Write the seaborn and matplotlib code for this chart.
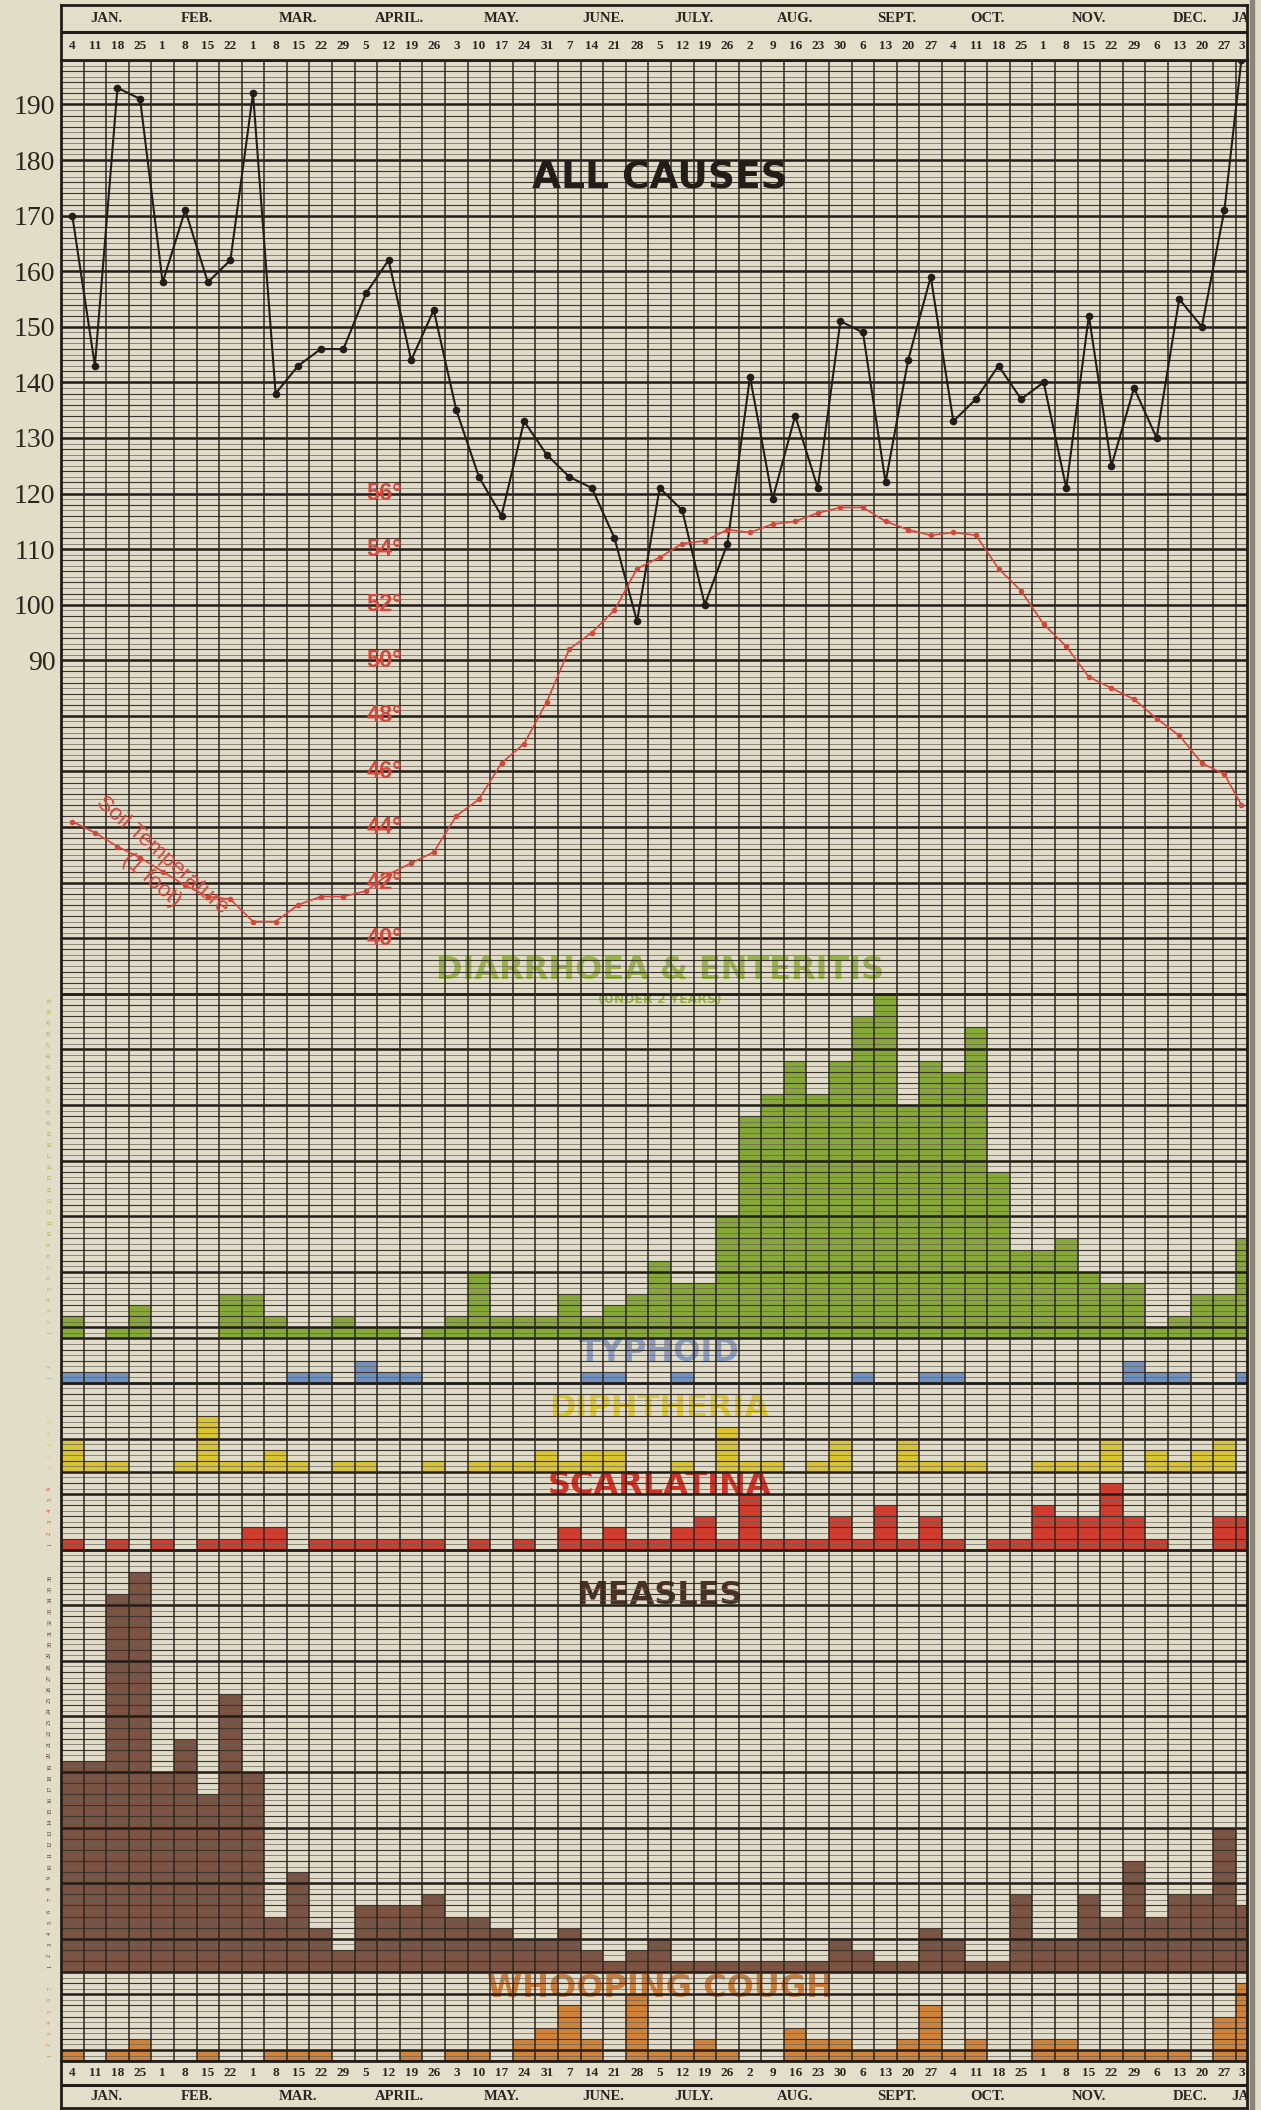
import numpy as np
import pandas as pd
import matplotlib
matplotlib.use("Agg")
import matplotlib.pyplot as plt
import seaborn as sns

# === DATA ===
MONTHS = ["JAN.", "FEB.", "MAR.", "APRIL.", "MAY.", "JUNE.", "JULY.", "AUG.",
          "SEPT.", "OCT.", "NOV.", "DEC.", "JAN."]
MONTH_WEEKS = [4, 4, 5, 4, 5, 4, 4, 5, 4, 4, 5, 4, 1]
WEEK_DAYS = [4, 11, 18, 25, 1, 8, 15, 22, 1, 8, 15, 22, 29, 5, 12, 19, 26,
             3, 10, 17, 24, 31, 7, 14, 21, 28, 5, 12, 19, 26, 2, 9, 16, 23, 30,
             6, 13, 20, 27, 4, 11, 18, 25, 1, 8, 15, 22, 29, 6, 13, 20, 27, 3]

ALL_CAUSES = [170, 143, 193, 191, 158, 171, 158, 162, 192, 138, 143, 146, 146,
              156, 162, 144, 153, 135, 123, 116, 133, 127, 123, 121, 112, 97,
              121, 117, 100, 111, 141, 119, 134, 121, 151, 149, 122, 144, 159,
              133, 137, 143, 137, 140, 121, 152, 125, 139, 130, 155, 150, 171, 198]
SOIL_TEMP = [44.2, 43.8, 43.3, 42.9, 42.4, 41.9, 41.5, 41.4, 40.6, 40.6,
             41.2, 41.5, 41.5, 41.7, 42.3, 42.7, 43.1, 44.4, 45.0, 46.3,
             47.0, 48.5, 50.4, 51.0, 51.8, 53.3, 53.7, 54.2, 54.3, 54.7,
             54.6, 54.9, 55.0, 55.3, 55.5, 55.5, 55.0, 54.7, 54.5, 54.6,
             54.5, 53.3, 52.5, 51.3, 50.5, 49.4, 49.0, 48.6, 47.9, 47.3,
             46.3, 45.9, 44.8]

DIARRHOEA = [2, 0, 1, 3, 0, 0, 0, 4, 4, 2, 1, 1, 2, 1, 1, 0, 1, 2, 6, 2, 2, 2,
             4, 2, 3, 4, 7, 5, 5, 11, 20, 22, 25, 22, 25, 29, 31, 21, 25, 24,
             28, 15, 8, 8, 9, 6, 5, 5, 1, 2, 4, 4, 9]
TYPHOID = [1, 1, 1, 0, 0, 0, 0, 0, 0, 0, 1, 1, 0, 2, 1, 1, 0, 0, 0, 0, 0, 0,
           0, 1, 1, 0, 0, 1, 0, 0, 0, 0, 0, 0, 0, 1, 0, 0, 1, 1, 0, 0, 0, 0,
           0, 0, 0, 2, 1, 1, 0, 0, 1]
DIPHTHERIA = [3, 1, 1, 0, 0, 1, 5, 1, 1, 2, 1, 0, 1, 1, 0, 0, 1, 0, 1, 1, 1, 2,
              1, 2, 2, 0, 0, 1, 0, 4, 1, 1, 0, 1, 3, 0, 0, 3, 1, 1, 1, 0, 0,
              1, 1, 1, 3, 0, 2, 1, 2, 3, 0]
SCARLATINA = [1, 0, 1, 0, 1, 0, 1, 1, 2, 2, 0, 1, 1, 1, 1, 1, 1, 0, 1, 0, 1, 0,
              2, 1, 2, 1, 1, 2, 3, 1, 5, 1, 1, 1, 3, 1, 4, 1, 3, 1, 0, 1, 1,
              4, 3, 3, 6, 3, 1, 0, 0, 3, 3]
MEASLES = [19, 19, 34, 36, 18, 21, 16, 25, 18, 5, 9, 4, 2, 6, 6, 6, 7, 5, 5, 4,
           3, 3, 4, 2, 1, 2, 3, 1, 1, 1, 1, 1, 1, 1, 3, 2, 1, 1, 4, 3, 1, 1,
           7, 3, 3, 7, 5, 10, 5, 7, 7, 13, 6]
WHOOPING_COUGH = [1, 0, 1, 2, 0, 0, 1, 0, 0, 1, 1, 1, 0, 0, 0, 1, 0, 1, 1, 0,
                  2, 3, 5, 2, 0, 6, 1, 1, 2, 1, 0, 0, 3, 2, 2, 1, 1, 2, 5, 1,
                  2, 0, 0, 2, 2, 1, 1, 1, 1, 1, 0, 4, 7]

DEATH_TICKS = list(range(90, 200, 10))
TEMP_TICKS = list(range(40, 58, 2))

# === STYLE ===
sns.set_style("white")
plt.rcParams["font.family"] = ["Liberation Serif", "DejaVu Serif"]

PAPER = "#e2ddc7"
GRID_BG = "#e0dcc9"
INK = "#221d19"
TEMP_RED = "#d4473a"

W, H = 1261, 2110
LEFT, RIGHT = 61, 1247
GRID_TOP = 60
ROW = 11.117
N_ROWS = 180
XMIN, XMAX = -0.5, 52.0

weeks = np.arange(len(WEEK_DAYS))
edges = np.minimum(np.arange(len(WEEK_DAYS) + 1) - 0.5, XMAX)
centers = (edges[:-1] + edges[1:]) / 2

fig = plt.figure(figsize=(W / 100, H / 100), dpi=100, facecolor=PAPER)


def band(top_px, bottom_px, z):
    ax = fig.add_axes([LEFT / W, 1 - bottom_px / H, (RIGHT - LEFT) / W,
                       (bottom_px - top_px) / H], zorder=z)
    ax.set_xlim(XMIN, XMAX)
    for s in ax.spines.values():
        s.set_visible(False)
    ax.set_xticks([])
    ax.set_yticks([])
    return ax


def rows_ax(r0, r1, z):
    return band(GRID_TOP + r0 * ROW, GRID_TOP + r1 * ROW, z)


# === PAPER BACKGROUND ===
bg = rows_ax(0, N_ROWS, 0)
bg.set_facecolor(GRID_BG)

# === DISEASE PANELS (bars) ===
panels = [
    # title, values, rows, bar colour, label colour, scale max, title y
    ("DIARRHOEA & ENTERITIS", DIARRHOEA, (84, 115), "#86a838", "#9ab44c", 31, 33.1),
    ("TYPHOID", TYPHOID, (115, 119), "#7090bd", "#8a9cc0", 2, 2.7),
    ("DIPHTHERIA", DIPHTHERIA, (119, 127), "#d9c433", "#dcc63a", 5, 5.7),
    ("SCARLATINA", SCARLATINA, (127, 134), "#d03c2e", "#cc3429", 6, 5.8),
    ("MEASLES", MEASLES, (134, 172), "#7a5343", "#4a3025", 36, 33.9),
    ("WHOOPING COUGH", WHOOPING_COUGH, (172, 180), "#d08338", "#c97d3d", 7, 6.55),
]

for title, vals, (r0, r1), bar_c, lab_c, top_lab, ty in panels:
    ax = rows_ax(r0, r1, 1)
    ax.patch.set_visible(False)
    df = pd.DataFrame({"week": weeks, "deaths": vals})
    sns.barplot(data=df, x="week", y="deaths", color=bar_c, width=1,
                saturation=1, errorbar=None, linewidth=0, ax=ax)
    ax.set_xlim(XMIN, XMAX)
    ax.set_ylim(0, r1 - r0)
    ax.set_axis_off()
    for k in range(1, top_lab + 1):
        ax.text(-1.0, k - 0.5, str(k), fontsize=4.5, color=lab_c, ha="center",
                va="center", rotation=90, clip_on=False)
    ax.text(26.0, ty, title, fontsize=23, fontweight="bold", color=lab_c,
            family="DejaVu Sans", ha="center", va="center", clip_on=False)
    if title.startswith("DIARRHOEA"):
        ax.text(26.0, 30.45, "(UNDER 2 YEARS)", fontsize=9, fontweight="bold",
                color=lab_c, family="DejaVu Sans", ha="center", va="center")

# === GRID OVERLAY ===
gx = rows_ax(0, N_ROWS, 2)
gx.patch.set_visible(False)
gx.set_ylim(N_ROWS, 0)
gx.hlines(np.arange(0.5, N_ROWS, 1), XMIN, XMAX, color="#6a6257", lw=0.5)
gx.hlines(np.arange(1, N_ROWS), XMIN, XMAX, color="#3c352e", lw=0.8)
thick = [r for r in range(1, N_ROWS) if r % 5 == 4] + [84, 115, 119, 127, 134, 172]
gx.hlines(thick, XMIN, XMAX, color=INK, lw=1.8)
gx.vlines(np.arange(0.5, XMAX, 1), 0, N_ROWS, color="#2c2621", lw=1.1)
for s in gx.spines.values():
    s.set_visible(True)
    s.set_color(INK)
    s.set_linewidth(2)

# === ALL CAUSES + SOIL TEMPERATURE ===
ax = rows_ax(0, 84, 3)
ax.patch.set_visible(False)
sns.lineplot(x=centers, y=ALL_CAUSES, color=INK, lw=1.5, marker="o",
             markersize=5.5, markeredgewidth=0, ax=ax)
ax.set_xlim(XMIN, XMAX)
ax.set_ylim(30, 198)
ax.set_yticks(DEATH_TICKS)
ax.set_yticklabels([str(t) for t in DEATH_TICKS])
ax.tick_params(axis="y", length=0, pad=4, labelsize=20, labelcolor="#2b2520")
ax.set_xticks([])
ax.text(26.0, 176.6, "ALL CAUSES", fontsize=27, fontweight="heavy",
        family="DejaVu Sans", color=INK, ha="center", va="center")

at = ax.twinx()
at.set_zorder(3)
at.patch.set_visible(False)
sns.lineplot(x=centers, y=SOIL_TEMP, color=TEMP_RED, lw=1.2, marker="o",
             markersize=4, markeredgewidth=0, ax=at)
at.set_ylim((30 + 160) / 5, (198 + 160) / 5)
at.set_xlim(XMIN, XMAX)
at.set_yticks([])
for s in at.spines.values():
    s.set_visible(False)
for t in TEMP_TICKS:
    at.text(13.8, t, f"{t}°", color=TEMP_RED, fontsize=17, fontweight="bold",
            family="Liberation Sans", ha="center", va="center")
at.text(4.0, 43.0, "Soil Temperature", color=TEMP_RED, fontsize=16,
        family="Liberation Sans", rotation=-41, ha="center", va="center")
at.text(3.5, 42.1, "(1 foot)", color=TEMP_RED, fontsize=16,
        family="Liberation Sans", rotation=-41, ha="center", va="center")

# === HEADER / FOOTER (months and week days) ===
month_starts = np.cumsum([0] + MONTH_WEEKS[:-1])
month_centers = month_starts + np.array(MONTH_WEEKS) / 2 - 0.5


def calendar_strip(top_px, bottom_px, months_on_top):
    hx = band(top_px, bottom_px, 3)
    hx.set_facecolor("#e2dec9")
    hx.set_ylim(0, 1)
    m_y, d_y = (0.76, 0.25) if months_on_top else (0.24, 0.75)
    sep = 0.51 if months_on_top else 0.49
    for name, c in zip(MONTHS, month_centers):
        hx.text(c, m_y, name, fontsize=10.5, fontweight="bold", color="#2b2520",
                ha="center", va="center", clip_on=True)
    for d, c in zip(WEEK_DAYS, centers):
        hx.text(c, d_y, str(d), fontsize=9.5, fontweight="bold", color="#2b2520",
                ha="center", va="center", clip_on=True)
    hx.axhline(sep, color=INK, lw=2.2)
    for s in hx.spines.values():
        s.set_visible(True)
        s.set_color(INK)
        s.set_linewidth(2)
    return hx


calendar_strip(5, 60, True)
calendar_strip(2061, 2108, False)

# page edge shadow at the right
fig.patches.append(plt.Rectangle((1250 / W, 0), 4 / W, 1, transform=fig.transFigure,
                                 color="#8a8478", zorder=0))

fig.savefig("out.png", dpi=100, facecolor=PAPER)
